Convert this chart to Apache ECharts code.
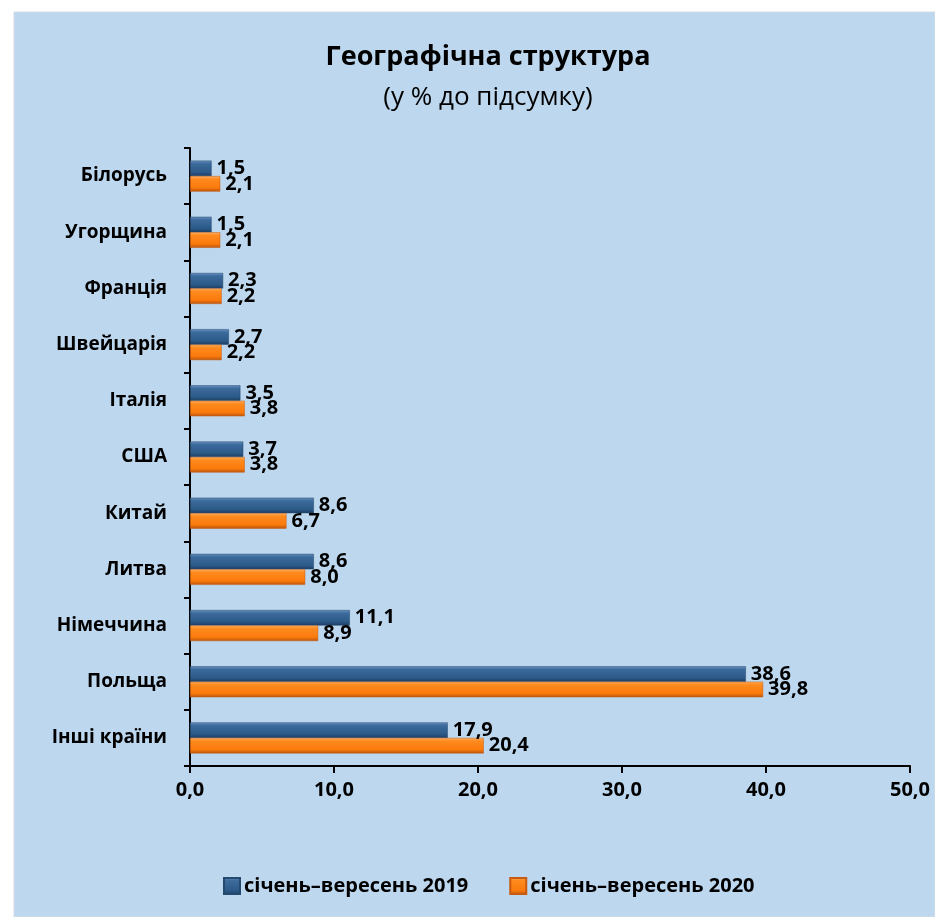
<!DOCTYPE html>
<html><head><meta charset="utf-8">
<script src="https://cdn.jsdelivr.net/npm/echarts@6/dist/echarts.min.js"></script>
<style>html,body{margin:0;padding:0;background:#fff;}#c{width:935px;height:917px;}</style>
</head><body><div id="c"></div>
<script>
const categories = ['Білорусь','Угорщина','Франція','Швейцарія','Італія','США','Китай','Литва','Німеччина','Польща','Інші країни'];
const values2019 = [1.5,1.5,2.3,2.7,3.5,3.7,8.6,8.6,11.1,38.6,17.9];
const values2020 = [2.1,2.1,2.2,2.2,3.8,3.8,6.7,8.0,8.9,39.8,20.4];
const seriesNames = ['січень–вересень 2019','січень–вересень 2020'];
const xTicks = [0,10,20,30,40,50];

const FONT = '"Open Sans", "Noto Sans", sans-serif';
const fmt = v => v.toFixed(1).replace('.', ',');
const blueGrad = new echarts.graphic.LinearGradient(0,0,0,1,[
  {offset:0,color:'#6a93c0'},{offset:0.2,color:'#3b6a9c'},{offset:0.75,color:'#2c5a88'},{offset:1,color:'#1c3d62'}]);
const orangeGrad = new echarts.graphic.LinearGradient(0,0,0,1,[
  {offset:0,color:'#ffb060'},{offset:0.2,color:'#ff8a1e'},{offset:0.75,color:'#fb7a0c'},{offset:1,color:'#b8540e'}]);

const chart = echarts.init(document.getElementById('c'));
chart.setOption({
  animation:false,
  graphic:[{type:'rect',z:-10,shape:{x:14,y:12,width:921,height:905},style:{fill:'#BDD7EE',stroke:'#d4dce4',lineWidth:1}}],
  title:[
    {text:'Географічна структура',left:483,top:39,textAlign:'center',textStyle:{fontFamily:FONT,fontWeight:'bold',fontSize:27,color:'#000'}},
    {text:'(у % до підсумку)',left:483,top:80,textAlign:'center',textStyle:{fontFamily:FONT,fontWeight:'normal',fontSize:26,color:'#000'}}
  ],
  legend:{
    bottom:16,left:218,itemWidth:16,itemHeight:16,itemGap:41,
    textStyle:{fontFamily:FONT,fontWeight:'bold',fontSize:20,color:'#000',padding:[0,0,0,-1]},
    data:[{name:seriesNames[0],icon:'rect',itemStyle:{color:blueGrad}},{name:seriesNames[1],icon:'rect',itemStyle:{color:orangeGrad}}]
  },
  grid:{left:190,right:25,top:148,bottom:151,containLabel:false},
  xAxis:{type:'value',min:0,max:50,interval:10,
    axisLine:{show:true,lineStyle:{color:'#000',width:2}},
    axisTick:{show:true,length:7,lineStyle:{color:'#000',width:2}},
    splitLine:{show:false},
    axisLabel:{margin:14,fontFamily:FONT,fontWeight:'bold',fontSize:20,color:'#000',formatter:v=>fmt(v)}},
  yAxis:{type:'category',data:categories,inverse:true,
    axisLine:{show:true,lineStyle:{color:'#000',width:2}},
    axisTick:{show:true,length:6,lineStyle:{color:'#000',width:2}},
    axisLabel:{margin:23,fontFamily:FONT,fontWeight:'bold',fontSize:19,color:'#000'}},
  series:[
    {name:seriesNames[0],type:'bar',data:values2019,barWidth:15.5,barGap:'0%',barCategoryGap:'44%',
      itemStyle:{color:blueGrad,borderColor:'#24496f',borderWidth:0.5},
      label:{show:true,position:'right',distance:5,fontFamily:FONT,fontWeight:'bold',fontSize:20,color:'#000',formatter:p=>fmt(p.value)}},
    {name:seriesNames[1],type:'bar',data:values2020,barWidth:15.5,barGap:'0%',barCategoryGap:'44%',
      itemStyle:{color:orangeGrad,borderColor:'#c65a10',borderWidth:0.5},
      label:{show:true,position:'right',distance:5,fontFamily:FONT,fontWeight:'bold',fontSize:20,color:'#000',formatter:p=>fmt(p.value)}}
  ]
});
</script></body></html>
